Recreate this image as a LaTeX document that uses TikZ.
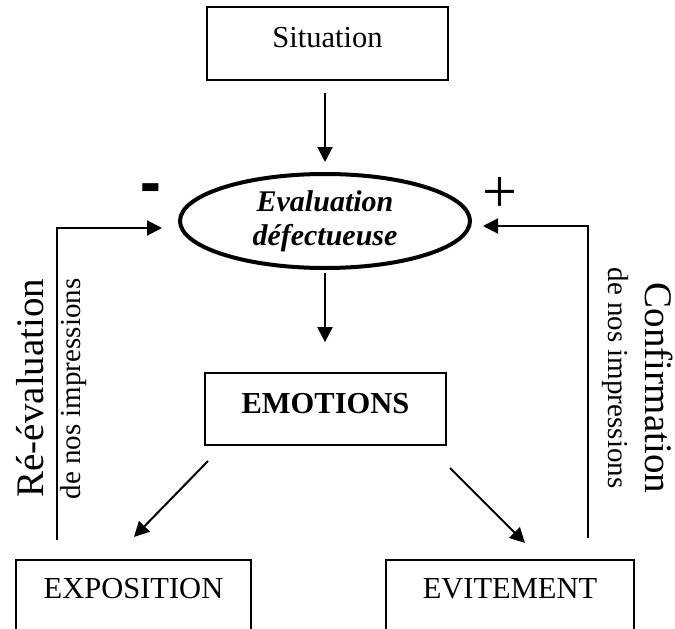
\documentclass[tikz,border=0pt]{standalone}
\usepackage{fontspec}
\usepackage{graphicx}
\setmainfont{Liberation Serif}
\usetikzlibrary{arrows.meta,shapes.geometric,calc}
\begin{document}
\begin{tikzpicture}[x=1pt,y=-1pt,
  box/.style={draw,line width=1.7pt,inner sep=0pt,font=\fontsize{30.5}{36}\selectfont},
  arr/.style={line width=2pt,-{Triangle[length=15pt,width=15pt]}},
  biglbl/.style={font=\fontsize{39}{45}\selectfont,anchor=base,inner sep=0pt},
  smalllbl/.style={font=\fontsize{29}{34}\selectfont,anchor=base,inner sep=0pt}]
\useasboundingbox (0,0) rectangle (675,629);
\clip (0,0) rectangle (675,629);
\fill[white] (0,0) rectangle (675,629);

\node[box,minimum width=241pt,text height=40pt,text depth=33pt] (sit) at (327.5,43.5) {Situation};
\node[ellipse,draw,line width=4pt,inner sep=0pt,minimum width=290pt,minimum height=94pt,align=center,
      font=\fontsize{30}{34}\selectfont\bfseries\itshape] (eval) at (325,221) {Evaluation\\défectueuse};
\node[box,minimum width=241pt,text height=40pt,text depth=32pt,font=\fontsize{30.5}{36}\selectfont\bfseries] (emo) at (325.5,409) {EMOTIONS};
\node[box,minimum width=235pt,text height=38pt,text depth=62pt] (expo) at (133.5,610) {EXPOSITION};
\node[box,minimum width=248pt,text height=38pt,text depth=62pt] (evit) at (510,610) {EVITEMENT};

\draw[arr,shorten <=12pt,shorten >=10pt] (sit.south -| eval.north) -- (eval.north);
\draw[arr,shorten <=3pt,shorten >=30pt] (eval.south) -- (emo.north -| eval.south);

\coordinate (d1) at (208,461);
\coordinate (d2) at (134,537);
\coordinate (d3) at (450,468);
\coordinate (d4) at (525,543);
\draw[arr] (d1) -- (d2);
\draw[arr] (d3) -- (d4);

\coordinate (l0) at (57,540);
\coordinate (l1) at (162,228);
\coordinate (r0) at (588,538);
\coordinate (r1) at (483,226);
\draw[arr] (l0) |- (l1);
\draw[arr] (r0) |- (r1);

\node[biglbl,rotate=90] (lbl1) at (43,388) {Ré-évaluation};
\node[smalllbl,rotate=90] (lbl2) at (80,389) {de nos impressions};
\node[smalllbl,rotate=-90] (lbl3) at (608,378) {de nos impressions};
\node[biglbl,rotate=-90] (lbl4) at (645,388) {Confirmation};

\node[font=\fontsize{62}{62}\selectfont,inner sep=0pt] (plus) at (499.5,194.5) {+};
\node[font=\fontsize{62}{62}\selectfont\bfseries,inner sep=0pt,anchor=base] (minus) at (150.5,209) {\scalebox{1}[1.5]{-}};
\end{tikzpicture}
\end{document}
